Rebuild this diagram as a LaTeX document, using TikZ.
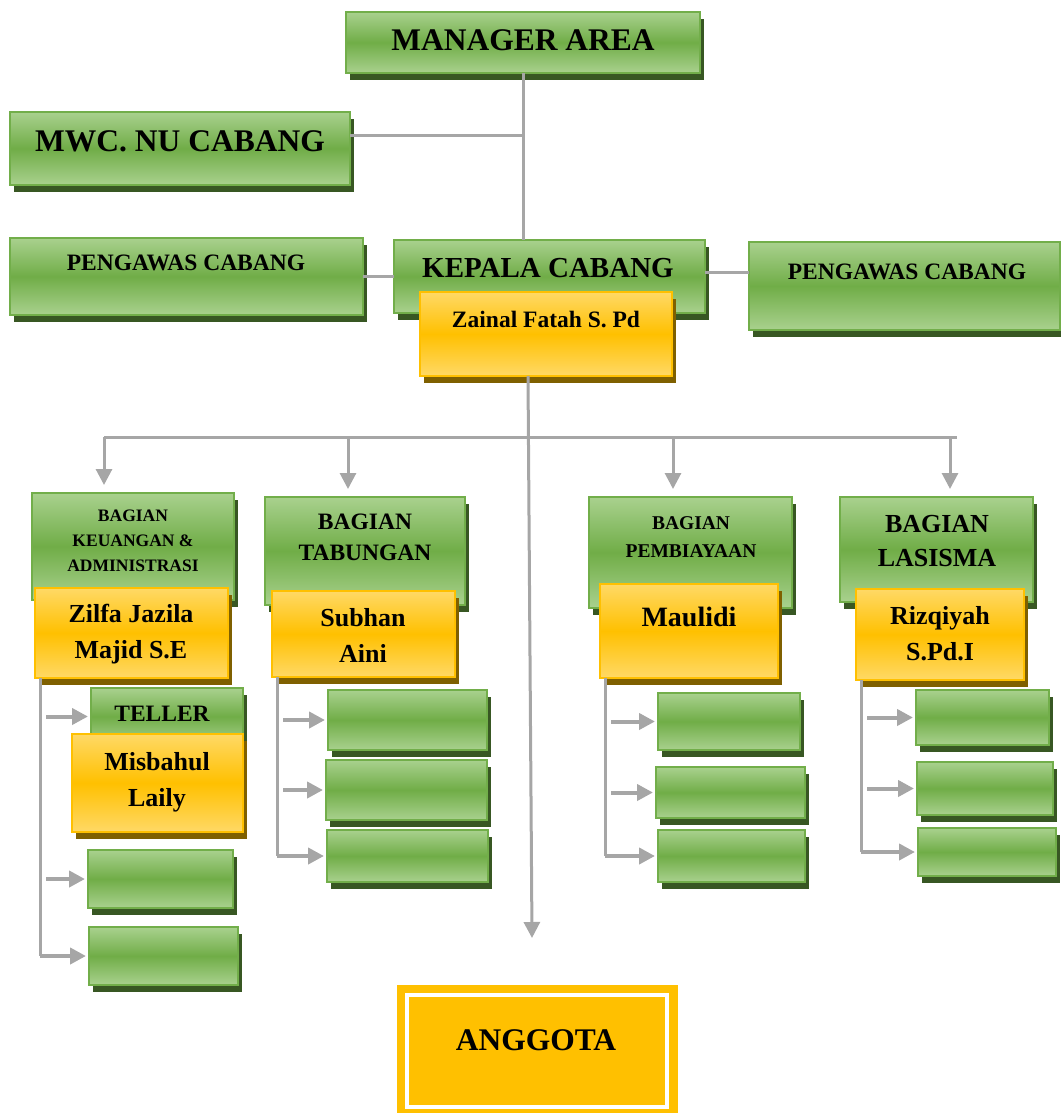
\documentclass[tikz,border=0pt]{standalone}
\usepackage{fontspec}
\setmainfont{Liberation Serif}
\usetikzlibrary{arrows.meta, calc, shadows}
\definecolor{greenTop}{HTML}{A9D18E}
\definecolor{greenMid}{HTML}{70AD47}
\definecolor{greenEdge}{HTML}{72AE4A}
\definecolor{greenShade}{HTML}{385723}
\definecolor{goldTop}{HTML}{FFD966}
\definecolor{goldMid}{HTML}{FFC000}
\definecolor{goldShade}{HTML}{7F6000}
\definecolor{lineGray}{HTML}{A6A6A6}
\newcommand{\lineWidth}{3pt}
\newcommand{\arrowTip}{{Triangle[length=16pt, width=16pt]}}
\newcommand{\shadowX}{4pt}
\newcommand{\shadowY}{-7pt}
\newcommand{\txtSize}[2]{\fontsize{#1}{#2}\selectfont\bfseries}
\tikzstyle{panel}=[inner sep=0, outer sep=0, line width=2pt]
\tikzstyle{greenBox}=[panel, draw=greenEdge, top color=greenTop, bottom color=greenTop, middle color=greenMid, general shadow={fill=greenShade, shadow xshift=\shadowX, shadow yshift=\shadowY}]
\tikzstyle{goldBox}=[panel, draw=goldMid, top color=goldTop, bottom color=goldTop, middle color=goldMid, general shadow={fill=goldShade, shadow xshift=\shadowX, shadow yshift=\shadowY}]
\tikzstyle{txt}=[inner sep=0, align=center]
\tikzstyle{line}=[draw=lineGray, line width=\lineWidth]
\tikzstyle{arrow}=[line, line width=4pt, -\arrowTip]

\begin{document}
\begin{tikzpicture}[x=1pt, y=-1pt]

\useasboundingbox (0,0) rectangle (1060,1115);

% Top level
\node[greenBox, minimum width=354pt, minimum height=61pt] (manager) at (523,42.5) {};
\node[txt, font=\txtSize{31.5}{36}] (managerTxt) at (523,40) {MANAGER AREA};
\node[greenBox, minimum width=340pt, minimum height=73pt] (mwc) at (180,148.5) {};
\node[txt, font=\txtSize{31.5}{36}] (mwcTxt) at (180,141) {MWC. NU CABANG};

% Kepala cabang and pengawas
\node[greenBox, minimum width=353pt, minimum height=77pt] (pengLeft) at (186.5,276.5) {};
\node[txt, font=\txtSize{23.5}{28}] (pengLeftTxt) at (186,263) {PENGAWAS CABANG};
\node[greenBox, minimum width=311pt, minimum height=88pt] (pengRight) at (904.5,286) {};
\node[txt, font=\txtSize{23.5}{28}] (pengRightTxt) at (907,272) {PENGAWAS CABANG};
\node[greenBox, minimum width=311pt, minimum height=73pt] (kepala) at (549.5,276.5) {};
\node[txt, font=\txtSize{29}{34}] (kepalaTxt) at (548,268) {KEPALA CABANG};
\node[goldBox, minimum width=252pt, minimum height=84pt] (zainal) at (546,334) {};
\node[txt, font=\txtSize{23.5}{28}] (zainalTxt) at (546,320) {Zainal Fatah S. Pd};

% Bagian
\node[greenBox, minimum width=202pt, minimum height=107pt] (keu) at (133,546.5) {};
\node[txt, font=\txtSize{17.5}{25}] (keuTxt) at (133,541) {BAGIAN\\KEUANGAN \&\\ADMINISTRASI};
\node[goldBox, minimum width=193pt, minimum height=90pt] (zilfa) at (131.5,633) {};
\node[txt, font=\txtSize{26}{36}] (zilfaTxt) at (131,634) {Zilfa Jazila\\Majid S.E};

\node[greenBox, minimum width=200pt, minimum height=108pt] (tab) at (365,551) {};
\node[txt, font=\txtSize{23.5}{31}] (tabTxt) at (365,537.5) {BAGIAN\\TABUNGAN};
\node[goldBox, minimum width=183pt, minimum height=86pt] (subhan) at (363.5,634) {};
\node[txt, font=\txtSize{26}{36}] (subhanTxt) at (363,635) {Subhan\\Aini};

\node[greenBox, minimum width=203pt, minimum height=111pt] (pemb) at (690.5,552.5) {};
\node[txt, font=\txtSize{19.5}{28}] (pembTxt) at (691,537) {BAGIAN\\PEMBIAYAAN};
\node[goldBox, minimum width=178pt, minimum height=94pt] (maulidi) at (689,631) {};
\node[txt, font=\txtSize{28}{34}] (maulidiTxt) at (689,617) {Maulidi};

\node[greenBox, minimum width=193pt, minimum height=105pt] (las) at (936.5,549.5) {};
\node[txt, font=\txtSize{26}{34}] (lasTxt) at (937,541) {BAGIAN\\LASISMA};
\node[goldBox, minimum width=168pt, minimum height=91pt] (rizq) at (940,634.5) {};
\node[txt, font=\txtSize{26}{36}] (rizqTxt) at (940,634) {Rizqiyah\\S.Pd.I};

% Sub units
\node[greenBox, minimum width=152pt, minimum height=57pt] (teller) at (167,716.5) {};
\node[txt, font=\txtSize{23.5}{28}] (tellerTxt) at (162,714) {TELLER};
\node[goldBox, minimum width=171pt, minimum height=98pt] (misbahul) at (157.5,783) {};
\node[txt, font=\txtSize{26}{36}] (misbahulTxt) at (157,782) {Misbahul\\Laily};
\node[greenBox, minimum width=145pt, minimum height=58pt] (keuB) at (160.5,879) {};
\node[greenBox, minimum width=149pt, minimum height=58pt] (keuC) at (163.5,956) {};

\node[greenBox, minimum width=159pt, minimum height=60pt] (tabA) at (407.5,720) {};
\node[greenBox, minimum width=161pt, minimum height=60pt] (tabB) at (406.5,790) {};
\node[greenBox, minimum width=161pt, minimum height=52pt] (tabC) at (407.5,856) {};

\node[greenBox, minimum width=142pt, minimum height=57pt] (pembA) at (729,721.5) {};
\node[greenBox, minimum width=149pt, minimum height=51pt] (pembB) at (730.5,792.5) {};
\node[greenBox, minimum width=147pt, minimum height=52pt] (pembC) at (731.5,856) {};

\node[greenBox, minimum width=133pt, minimum height=55pt] (lasA) at (982.5,717.5) {};
\node[greenBox, minimum width=136pt, minimum height=53pt] (lasB) at (985,788.5) {};
\node[greenBox, minimum width=138pt, minimum height=48pt] (lasC) at (987,852) {};

% Anggota
\node[panel, fill=goldMid, minimum width=281pt, minimum height=128pt] (anggota) at (537.5,1049) {};
\draw[white, line width=4pt] ($(anggota.north west)+(10,10)$) rectangle ($(anggota.south east)+(-11,-6)$);
\node[txt, font=\txtSize{31.5}{36}] (anggotaTxt) at (536,1040) {ANGGOTA};

% Connectors
\coordinate (mwcJoin) at (522,136);
\coordinate (trunk) at ($(zainal.south)+(-18,0)$);
\coordinate (trunkEnd) at (532,938);
\coordinate (busLeft) at (104,437);
\coordinate (busRight) at (957,437);

\draw[line] (manager.south) -- (manager.south |- kepala.north);
\draw[line] (mwc.east |- mwcJoin) -- (mwcJoin);
\draw[line] (pengLeft.east) -- (kepala.west);
\draw[line] (kepala.east |- 0,272) -- (pengRight.west |- 0,272);
\draw[arrow, line width=\lineWidth] (trunk) -- (trunkEnd);
\draw[line] (busLeft) -- (busRight);
\foreach \x/\n in {104/keu, 348/tab, 673/pemb, 950/las} {
  \draw[arrow, line width=\lineWidth] (\x,437) -- ($(\x,0 |- \n.north)+(0,-8)$);
}
\foreach \head/\a/\b/\c in {zilfa/teller/keuB/keuC, subhan/tabA/tabB/tabC, maulidi/pembA/pembB/pembC, rizq/lasA/lasB/lasC} {
  \coordinate (drop) at ($(\head.south west)+(5,0)$);
  \draw[line] (drop) -- (drop |- \c.west);
  \draw[arrow] ($(drop |- \a.west)+(6,0)$) -- ($(\a.west)+(-3,0)$);
  \draw[arrow] ($(drop |- \b.west)+(6,0)$) -- ($(\b.west)+(-3,0)$);
  \draw[arrow] (drop |- \c.west) -- ($(\c.west)+(-3,0)$);
}

\end{tikzpicture}
\end{document}
